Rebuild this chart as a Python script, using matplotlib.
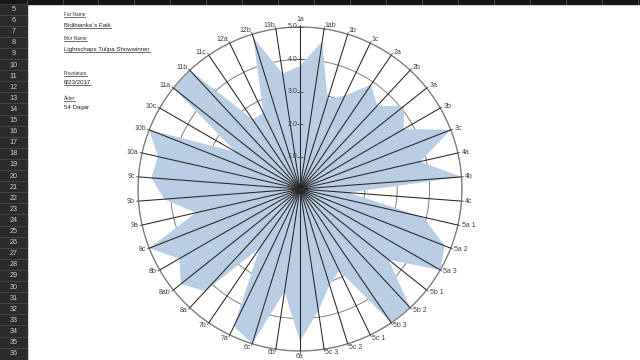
import numpy as np
import matplotlib
matplotlib.use("Agg")
import matplotlib.pyplot as plt
from matplotlib.patches import Rectangle

plt.rcParams["font.family"] = ["Liberation Sans", "DejaVu Sans"]

# radar categories, clockwise from the top
categories = ["1a", "1ab", "1b", "1c", "2a", "2b", "3a", "3b", "3c", "4a", "4b", "4c",
              "5a 1", "5a 2", "5a 3", "5b 1", "5b 2", "5b 3", "5c 1", "5c 2", "5c 3",
              "6a", "6b", "6c", "7a", "7b", "8a", "8ab", "8b", "8c", "9a", "9b", "9c",
              "10a", "10b", "10c", "11a", "11b", "11c", "12a", "12b", "13b"]
scores = [3.8, 4.6, 2.9, 3.2, 3.9, 3.5, 4.1, 3.7, 5.0, 3.8, 5.0, 1.5,
          3.9, 4.8, 5.0, 3.5, 5.0, 5.0, 2.8, 3.1, 3.8,
          4.7, 3.2, 5.0, 4.7, 2.2, 4.3, 4.7, 4.3, 5.0, 3.3, 4.2, 4.6,
          4.5, 5.0, 2.3, 5.0, 5.0, 2.6, 2.6, 4.9, 3.6]
radial_ticks = [0, 1, 2, 3, 4, 5]

# sheet info
info_labels = ["Far Name", "Mor Name", "Provdatum", "Ålder"]
info_values = ["Bidibianka´s Faik", "Lightschaps Tulipa Showwinner", "8/23/2017", "54 Dagar"]
info_underlined = [True, True, True, False]
row_numbers = list(range(5, 37))

fig = plt.figure(figsize=(6.4, 3.6), dpi=100)
fig.patch.set_facecolor("white")

# spreadsheet background (pixel coordinates)
bg = fig.add_axes([0, 0, 1, 1])
bg.set_xlim(0, 640)
bg.set_ylim(360, 0)
bg.axis("off")
bg.add_patch(Rectangle((0, 0), 27, 360, color="#2b2b2b", zorder=1))
bg.add_patch(Rectangle((0, 0), 640, 3.5, color="#151515", zorder=2))
for xs in [27, 63, 98, 134, 170, 206, 242, 278, 314, 350, 386, 422, 458, 494, 530, 566, 602, 638]:
    bg.plot([xs, xs], [0, 3.5], color="#555555", lw=0.6, zorder=3)
row_h = 11.1
for k, n in enumerate(row_numbers):
    y0 = 3.5 + k * row_h
    bg.plot([0, 27], [y0, y0], color="#4a4a4a", lw=0.6, zorder=2)
    bg.text(13.5, y0 + row_h / 2 + 0.5, str(n), color="#cfcfcf", fontsize=5.2,
            ha="center", va="center", zorder=3)

label_y = [15, 38.3, 73.3, 98.3]
value_y = [25.7, 49.3, 82.7, 107.7]
texts = []
for lab, val, ul, ly, vy in zip(info_labels, info_values, info_underlined, label_y, value_y):
    t1 = bg.text(64, ly, lab, fontsize=3.4, color="#333333", ha="left", va="center")
    t2 = bg.text(64, vy, val, fontsize=4.4, color="#222222", ha="left", va="center")
    texts.append((t1, True))
    texts.append((t2, ul))

# radar chart
n = len(categories)
theta = np.linspace(0, 2 * np.pi, n, endpoint=False)
theta_c = np.append(theta, theta[0])
vals_c = np.append(scores, scores[0])

ax = fig.add_axes([0.2156, 0.025, 0.50625, 0.9], projection="polar")
ax.set_theta_zero_location("N")
ax.set_theta_direction(-1)
ax.set_ylim(0, 5)
ax.fill(theta_c, vals_c, color="#b9cde5", lw=0, zorder=2)
ax.set_xticks([])
ax.set_yticks(radial_ticks[1:])
ax.set_yticklabels([])
ax.yaxis.grid(True, color="#7f7f7f", lw=0.7)
ax.spines["polar"].set_color("#7a7a7a")
ax.spines["polar"].set_linewidth(0.9)
for t in theta:
    ax.plot([t, t], [0, 5], color="#262626", lw=0.75, zorder=3)
    ax.plot([t, t], [5, 5.06], color="#555555", lw=0.6, zorder=3, clip_on=False)

for v in radial_ticks:
    ax.annotate(f"{v:.1f}", xy=(0, v), xytext=(-2, 0), textcoords="offset points",
                ha="right", va="center", fontsize=5, color="#404040", zorder=4)
ax.plot([0] * len(radial_ticks), radial_ticks, ls="none", marker="_", ms=4,
        mew=0.6, color="#404040", zorder=4, clip_on=False)

for t, lab in zip(theta, categories):
    s, c = np.sin(t), np.cos(t)
    ha = "left" if s > 0.05 else ("right" if s < -0.05 else "center")
    va = "bottom" if c > 0.995 else "center"
    off = (0, -2.5) if c < -0.995 else (s * 1.5, c * 1.5)
    ax.annotate(lab, xy=(t, 5.05), xytext=off, textcoords="offset points",
                ha=ha, va=va, fontsize=5, color="#404040", annotation_clip=False)

# underline the sheet texts
fig.canvas.draw()
renderer = fig.canvas.get_renderer()
inv = bg.transData.inverted()
for t, ul in texts:
    if not ul:
        continue
    bb = t.get_window_extent(renderer)
    (x0, y0), (x1, _) = inv.transform([(bb.x0, bb.y0), (bb.x1, bb.y0)])
    bg.plot([x0, x1], [y0 - 0.3, y0 - 0.3], color="#333333", lw=0.5)

fig.savefig("out.png", dpi=100)
